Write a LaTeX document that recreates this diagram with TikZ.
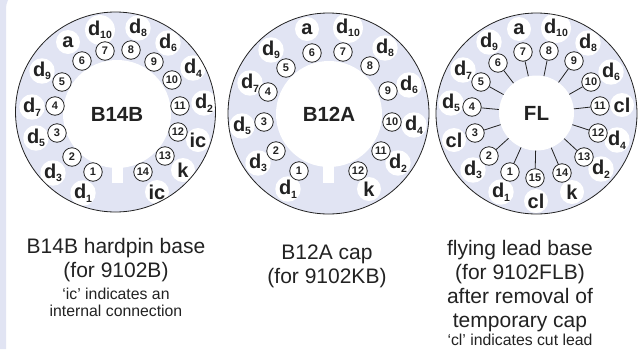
\documentclass[tikz,border=0pt]{standalone}
\usepackage{fontspec}
\setmainfont{Liberation Sans}
\definecolor{ringblue}{HTML}{E1E4F3}
\definecolor{inkgrey}{HTML}{222222}
\newcommand{\dn}[1]{d\kern-.01em\raisebox{-.18em}{\fontsize{10.5}{12}\selectfont #1}}
\tikzset{
  ring/.style={draw=inkgrey, line width=0.8pt},
  hub/.style={circle, fill=white, inner sep=0pt, text=inkgrey, font=\bfseries\fontsize{20.5}{22}\selectfont},
  pinno/.style={circle, draw=inkgrey, fill=white, line width=0.8pt, minimum size=18.5pt, inner sep=0pt, text=inkgrey, font=\bfseries\fontsize{11}{12}\selectfont},
  lbl/.style={circle, fill=white, minimum size=24pt, inner sep=0pt, text=inkgrey, font=\bfseries\fontsize{20}{22}\selectfont},
  capbig/.style={text=inkgrey, align=center, font=\fontsize{21}{24}\selectfont},
  capsmall/.style={text=inkgrey, align=center, font=\fontsize{15.8}{17}\selectfont},
}
\begin{document}
\begin{tikzpicture}[x=1pt, y=-1pt]
  \useasboundingbox (0,0) rectangle (638,349);
  \fill[white] (0,0) rectangle (638,349);
  \fill[ringblue] (0,0) -- (8,0) .. controls (6.5,3) and (6,6) .. (6,10) -- (6,349) -- (0,349) -- cycle;
  % B14B
  \coordinate (cA) at (115.5,112);
  \fill[ringblue] (cA) circle (100);
  \foreach \t/\x/\y/\n in {\dn{1}/83/193/1, \dn{3}/53/173/2, \dn{5}/36/138/3, \dn{7}/32/107/4, \dn{9}/42/71/5, a/68/42/6, \dn{10}/100/30/7, \dn{8}/138/28/8, \dn{6}/168/43/9, \dn{4}/193/68/10, \dn{2}/204/103/11, ic/198/140/12, k/183/170/13, ic/157/192/14}
    \node[lbl] (la\n) at (\x,\y) {\t};
  \node[hub, minimum size=108pt] (hubA) at (117,114) {B14B};
  \fill[white] (112,160) rectangle (123,183);
  \foreach \n/\x/\y in {1/93/172, 2/72/157, 3/57/133, 4/55/106, 5/62/82, 6/82/61, 7/105/51, 8/131/50, 9/154/62, 10/172/80, 11/180/106, 12/178/132, 13/165/156, 14/143/172}
    \node[pinno] (pa\n) at (\x,\y) {\n};
  \draw[ring] (cA) circle (100);
  % B12A
  \coordinate (cB) at (328.5,113.5);
  \fill[ringblue] (cB) circle (100.5);
  \foreach \t/\x/\y/\n in {\dn{1}/288/189/1, \dn{3}/258/163/2, \dn{5}/242/126/3, \dn{7}/250/83/4, \dn{9}/271/50/5, a/307/29/6, \dn{10}/348/28/7, \dn{8}/385/48/8, \dn{6}/409/85/9, \dn{4}/414/125/10, \dn{2}/398/163/11, k/369/189/12}
    \node[lbl] (lb\n) at (\x,\y) {\t};
  \node[hub, minimum size=106pt] (hubB) at (329,114) {B12A};
  \fill[white] (323,160) rectangle (334,183);
  \foreach \n/\x/\y in {1/299/171, 2/276/151, 3/264/122, 4/268/92, 5/286/68, 6/312/53, 7/343/52, 8/370/66, 9/388/91, 10/392/122, 11/381/151, 12/358/171}
    \node[pinno] (pb\n) at (\x,\y) {\n};
  \draw[ring] (cB) circle (100.5);
  % flying leads
  \coordinate (cC) at (536.5,113.5);
  \fill[ringblue] (cC) circle (100.5);
  \foreach \t/\x/\y/\n in {\dn{1}/501/192/1, \dn{3}/473/170/2, cl/454/140/3, \dn{5}/451/103/4, \dn{7}/463/70/5, \dn{9}/489/42/6, a/519/29/7, \dn{10}/556/28/8, \dn{8}/588/43/9, \dn{6}/611/72/10, cl/622/105/11, \dn{4}/617/140/12, \dn{2}/601/169/13, k/572/192/14, cl/536/201/15}
    \node[lbl] (lc\n) at (\x,\y) {\t};
  \node[hub, minimum size=75pt] (hubC) at (536.5,113) {FL};
  \foreach \n/\x/\y in {1/510/172, 2/489/156, 3/475/133, 4/472/107, 5/481/82, 6/498/63, 7/523/52, 8/549/51, 9/574/61, 10/591/82, 11/600/106, 12/598/133, 13/584/157, 14/562/173, 15/535/178} {
    \node[pinno] (pc\n) at (\x,\y) {\n};
    \draw[ring] (hubC) -- (pc\n);
  }
  \draw[ring] (cC) circle (100.5);
  % captions
  \node[capbig, anchor=north] (capA) at (116,235) {B14B hardpin base\\(for 9102B)};
  \node[capsmall, anchor=north] (capAs) at (116,285) {‘ic’ indicates an\\internal connection};
  \node[capbig, anchor=north] (capB) at (327,241) {B12A cap\\(for 9102KB)};
  \node[capbig, anchor=north] (capC) at (520,237) {flying lead base\\(for 9102FLB)\\after removal of\\temporary cap};
  \node[capsmall, anchor=north] (capCs) at (520,331) {‘cl’ indicates cut lead};
\end{tikzpicture}
\end{document}
